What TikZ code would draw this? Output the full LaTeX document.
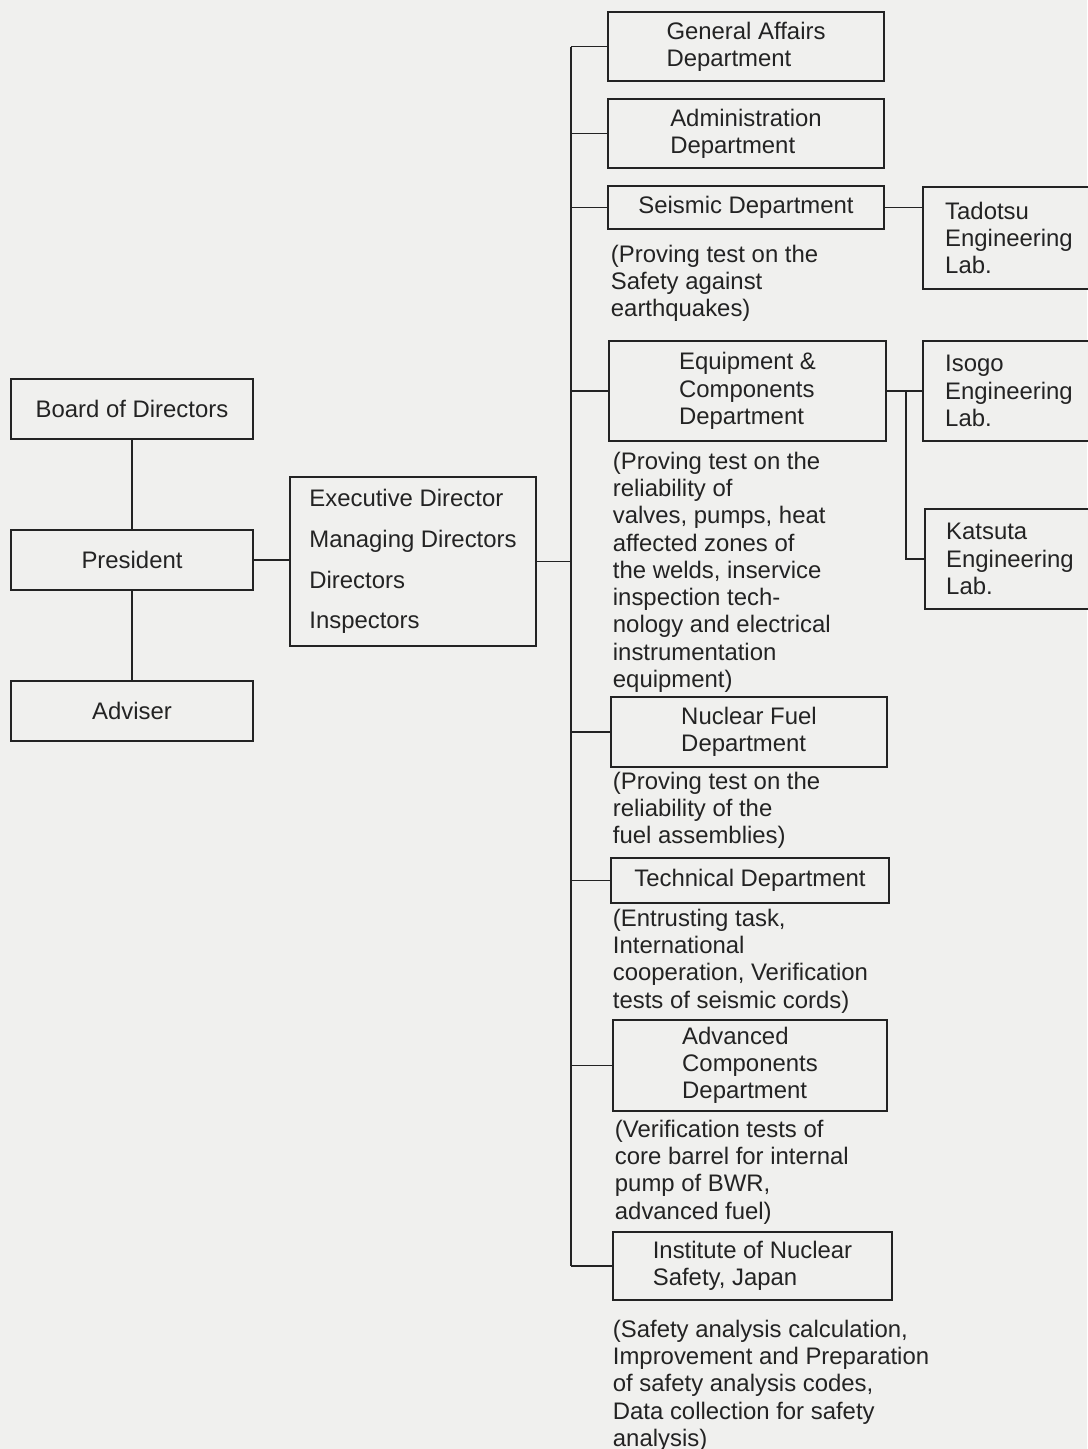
\documentclass[tikz,border=0pt]{standalone}
\usepackage{fontspec}
\setmainfont{Liberation Sans}
\usetikzlibrary{positioning}
\definecolor{paper}{RGB}{240,240,238}
\definecolor{ink}{RGB}{35,35,35}

\begin{document}
\begin{tikzpicture}[x=0.025cm,y=-0.025cm,line width=1.3pt,draw=ink,text=ink,
  font=\fontsize{17}{19.4}\selectfont,
  box/.style 2 args={draw,fill=paper,anchor=north west,align=left,inner sep=0pt,outer sep=0pt,
    minimum width=#1*0.025cm,minimum height=#2*0.025cm},
  note/.style={anchor=north west,align=left,inner sep=0pt}]
\useasboundingbox (0,0) rectangle (1087,1449);
\fill[paper] (0,0) rectangle (1087,1449);
\node[box={242}{60}] (board) at (11,379) {Board of Directors};
\node[box={242}{60}] (pres) at (11,530) {President};
\node[box={242}{60}] (adv) at (11,681) {Adviser};
\node[box={246}{169}] (exec) at (290,477) {Executive Director\\[9.5pt]Managing Directors\\[9.5pt]Directors\\[9.5pt]Inspectors};
\node[box={276}{69}] (gen) at (608,12) {General Affairs\\Department};
\node[box={276}{69}] (adm) at (608,99) {Administration\\Department};
\node[box={276}{43}] (seis) at (608,186) {Seismic Department};
\node[note] (seisnote) at (610,244) {(Proving test on the\\Safety against\\earthquakes)};
\node[box={172}{102}] (tad) at (923,187) {Tadotsu\\Engineering\\Lab.};
\node[box={277}{100}] (equip) at (609,341) {Equipment \&\\Components\\Department};
\node[note] (equipnote) at (612,451) {(Proving test on the\\reliability of\\valves, pumps, heat\\affected zones of\\the welds, inservice\\inspection tech-\\nology and electrical\\instrumentation\\equipment)};
\node[box={172}{100}] (isogo) at (923,341) {Isogo\\Engineering\\Lab.};
\node[box={170}{100}] (kats) at (925,509) {Katsuta\\Engineering\\Lab.};
\node[box={276}{70}] (fuel) at (611,697) {Nuclear Fuel\\Department};
\node[note] (fuelnote) at (612,771) {(Proving test on the\\reliability of the\\fuel assemblies)};
\node[box={278}{45}] (tech) at (611,858) {Technical Department};
\node[note] (technote) at (612,908) {(Entrusting task,\\International\\cooperation, Verification\\tests of seismic cords)};
\node[box={274}{91}] (advc) at (613,1020) {Advanced\\Components\\Department};
\node[note] (advcnote) at (614,1119) {(Verification tests of\\core barrel for internal\\pump of BWR,\\advanced fuel)};
\node[box={279}{68}] (ins) at (613,1232) {Institute of Nuclear\\Safety, Japan};
\node[note] (insnote) at (612,1319) {(Safety analysis calculation,\\Improvement and Preparation\\of safety analysis codes,\\Data collection for safety\\analysis)};
\coordinate (bus) at (571,0);
\coordinate (fork) at (906,0);
\draw (board) -- (pres);
\draw (pres) -- (adv);
\draw (pres.east) -- (pres.east -| exec.west);
\draw (exec.east) -- (exec.east -| bus);
\draw (gen.west -| bus) -- (ins.west -| bus);
\foreach \dept in {gen,adm,seis,equip,fuel,tech,advc,ins}
  \draw (\dept.west) -- (\dept.west -| bus);
\draw (seis.east) -- (seis.east -| tad.west);
\draw (equip.east) -- (equip.east -| isogo.west);
\draw (equip.east -| fork) |- (kats.west);
\end{tikzpicture}
\end{document}
